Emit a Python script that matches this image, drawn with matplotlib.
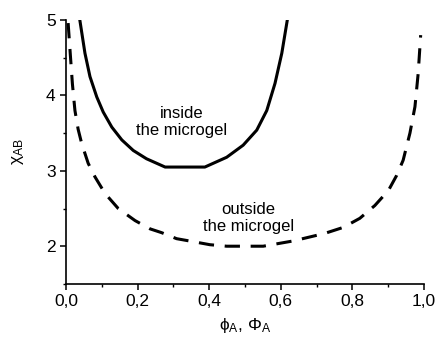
import matplotlib
matplotlib.use("Agg")
import matplotlib.pyplot as plt
from matplotlib.ticker import MultipleLocator, FormatStrFormatter

plt.rcParams['font.family'] = ['Liberation Sans', 'DejaVu Sans']
plt.rcParams['mathtext.fontset'] = 'custom'
plt.rcParams['mathtext.rm'] = 'Liberation Sans'
plt.rcParams['mathtext.it'] = 'Liberation Sans:italic'

# inside the microgel (solid)
phi_in = [0.039, 0.053, 0.067, 0.086, 0.104, 0.128, 0.156, 0.188, 0.225, 0.277,
          0.388, 0.449, 0.495, 0.533, 0.561, 0.584, 0.603, 0.618]
chi_in = [4.99, 4.56, 4.25, 3.98, 3.78, 3.58, 3.41, 3.27, 3.16, 3.05,
          3.05, 3.18, 3.34, 3.54, 3.80, 4.16, 4.56, 4.99]

# outside the microgel (dashed)
phi_out = [0.006, 0.012, 0.018, 0.025, 0.034, 0.044, 0.062, 0.081, 0.109, 0.146,
           0.193, 0.235, 0.267, 0.309, 0.356, 0.402, 0.449, 0.523, 0.551, 0.635,
           0.723, 0.775, 0.821, 0.863, 0.901, 0.924, 0.942, 0.961, 0.975, 0.984, 0.991]
chi_out = [4.96, 4.55, 4.15, 3.80, 3.55, 3.36, 3.10, 2.92, 2.70, 2.50,
           2.34, 2.23, 2.18, 2.10, 2.06, 2.02, 2.00, 2.00, 2.00, 2.07,
           2.17, 2.25, 2.37, 2.54, 2.74, 2.94, 3.14, 3.50, 3.85, 4.29, 4.80]

fig = plt.figure(figsize=(4.37, 3.4), dpi=100)
ax = fig.add_axes([0.151, 0.165, 0.819, 0.776])

ax.plot(phi_in, chi_in, color="black", lw=2.2, solid_joinstyle="round")
ax.plot(phi_out, chi_out, color="black", lw=2.2, linestyle=(0, (5, 3.5)))

ax.text(0.323, 3.65, "inside\nthe microgel", ha="center", va="center", fontsize=12, linespacing=1.15)
ax.text(0.509, 2.37, "outside\nthe microgel", ha="center", va="center", fontsize=12, linespacing=1.15)

ax.set_xlim(0, 1.0)
ax.set_ylim(1.5, 5)
ax.xaxis.set_major_locator(MultipleLocator(0.2))
ax.xaxis.set_minor_locator(MultipleLocator(0.1))
ax.yaxis.set_major_locator(MultipleLocator(1))
ax.yaxis.set_minor_locator(MultipleLocator(0.5))
ax.xaxis.set_major_formatter(plt.FuncFormatter(lambda v, p: ("%.1f" % v).replace(".", ",")))
ax.yaxis.set_major_formatter(FormatStrFormatter("%d"))

for s in ["top", "right"]:
    ax.spines[s].set_visible(False)
ax.spines["left"].set_linewidth(1.2)
ax.spines["bottom"].set_linewidth(1.2)
ax.tick_params(which="major", direction="out", length=4, width=1.1, labelsize=12.5)
ax.tick_params(which="minor", direction="out", length=2.5, width=1.0)

ax.set_xlabel(r"ϕ$_\mathrm{A}$, Φ$_\mathrm{A}$", fontsize=12.5, labelpad=5)
ax.set_ylabel(r"χ$_\mathrm{AB}$", fontsize=12.5, labelpad=14)

fig.savefig("out.png", dpi=100)
